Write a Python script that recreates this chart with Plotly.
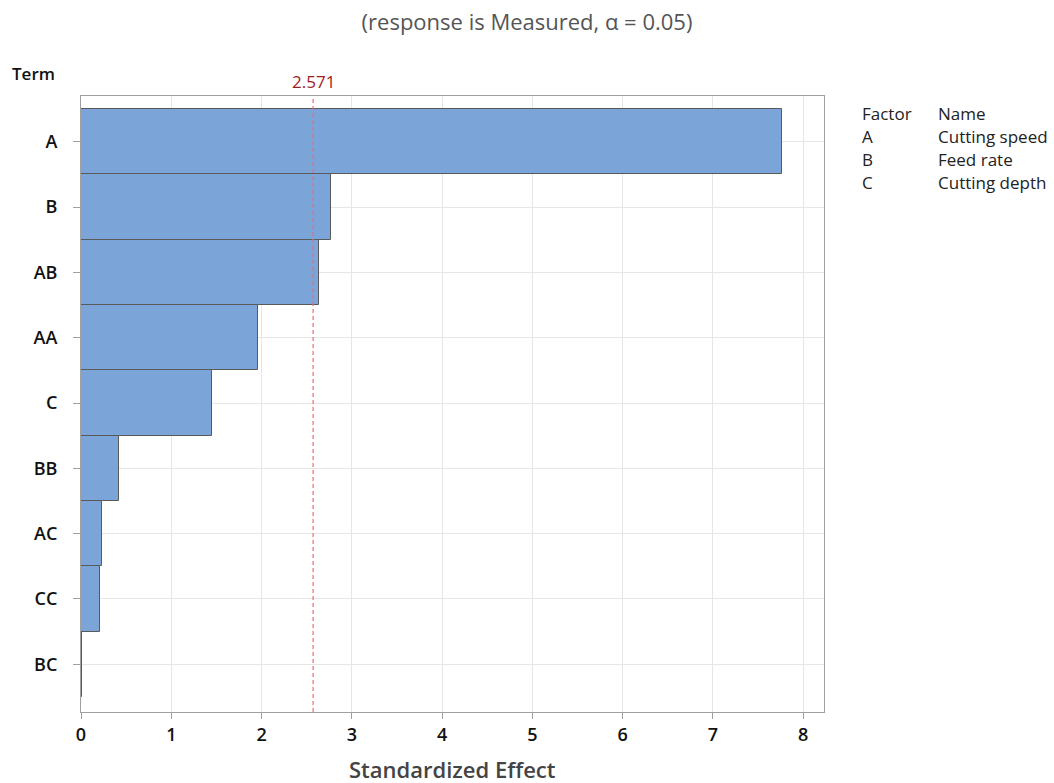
import plotly.graph_objects as go

# Pareto chart of standardized effects
terms = ["A", "B", "AB", "AA", "C", "BB", "AC", "CC", "BC"]
effects = [7.76, 2.77, 2.64, 1.96, 1.45, 0.42, 0.23, 0.21, 0.01]
critical_value = 2.571

factor_codes = ["A", "B", "C"]
factor_names = ["Cutting speed", "Feed rate", "Cutting depth"]
x_ticks = [0, 1, 2, 3, 4, 5, 6, 7, 8]

FONT = "Open Sans, Noto Sans, DejaVu Sans, sans-serif"

L, R, T, B = 81, 230, 96, 71
W, H = 1054, 783
pw, ph = W - L - R, H - T - B

fig = go.Figure()
fig.add_trace(go.Bar(
    x=effects,
    y=terms,
    orientation="h",
    marker=dict(color="#7BA5D9", line=dict(color="#5A5A5A", width=1)),
    width=1.0,
    showlegend=False,
    hoverinfo="x+y",
))

# critical value reference line
fig.add_shape(type="line", x0=critical_value, x1=critical_value, xref="x",
              y0=0, y1=1, yref="paper",
              line=dict(color="#EC6B73", width=1.2, dash="4px,3px"))
fig.add_annotation(x=critical_value, y=1, xref="x", yref="paper",
                   text=f"{critical_value:.3f}", showarrow=False,
                   yanchor="bottom", yshift=1,
                   font=dict(family=FONT, size=17, color="#9E1B1E"))


def add_page_text(px, py, txt, size=17, color="#222222", weight=400, anchor="left"):
    """Place text using page pixel coordinates."""
    fig.add_annotation(x=(px - L) / pw, y=(H - B - py) / ph, xref="paper", yref="paper",
                       text=txt, showarrow=False, xanchor=anchor, yanchor="middle",
                       font=dict(family=FONT, size=size, color=color, weight=weight))


# axis header for terms and x-axis title
add_page_text(10, 74, "Term", size=17, color="#111111", weight=600)
add_page_text(452, 769, "Standardized Effect", size=22, color="#444444", weight=600,
              anchor="center")

# factor / name table
col1_x, col2_x = 860, 936
row_y0, row_dy = 113, 23
add_page_text(col1_x, row_y0, "Factor")
add_page_text(col2_x, row_y0, "Name")
for i, (c, n) in enumerate(zip(factor_codes, factor_names)):
    add_page_text(col1_x, row_y0 + row_dy * (i + 1), c)
    add_page_text(col2_x, row_y0 + row_dy * (i + 1), n)

fig.update_layout(
    width=W, height=H,
    margin=dict(l=L, r=R, t=T, b=B),
    paper_bgcolor="white",
    plot_bgcolor="white",
    bargap=0,
    title=dict(text="(response is Measured, α = 0.05)", x=0.5, xanchor="center",
               y=1 - 22 / H, yanchor="middle",
               font=dict(family=FONT, size=22, color="#555555")),
    xaxis=dict(
        range=[0, 8.23],
        tickvals=x_ticks,
        automargin=False,
        showgrid=True, gridcolor="#E6E6E6", gridwidth=1,
        zeroline=False,
        showline=True, linecolor="#A0A0A0", linewidth=1, mirror=True,
        ticks="outside", ticklen=6, tickcolor="#A0A0A0",
        tickfont=dict(family=FONT, size=18, color="#111111", weight=600),
    ),
    yaxis=dict(
        range=[8.73, -0.70],
        automargin=False,
        showgrid=True, gridcolor="#E6E6E6", gridwidth=1,
        showline=True, linecolor="#A0A0A0", linewidth=1, mirror=True,
        ticks="outside", ticklen=7, tickcolor="#A0A0A0",
        tickfont=dict(family=FONT, size=18, color="#111111", weight=600),
        ticklabelstandoff=12,
    ),
)

fig.write_html("out.html")
